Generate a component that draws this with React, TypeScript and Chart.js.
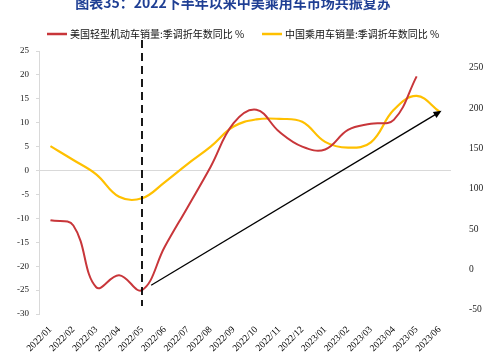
import React, { useEffect, useRef } from "react";
import { Chart, registerables } from "chart.js";
Chart.register(...registerables);

const categories = [
  "2022/01", "2022/02", "2022/03", "2022/04", "2022/05", "2022/06",
  "2022/07", "2022/08", "2022/09", "2022/10", "2022/11", "2022/12",
  "2023/01", "2023/02", "2023/03", "2023/04", "2023/05", "2023/06",
];
const usLabel = "美国轻型机动车销量:季调折年数同比 %";
const cnLabel = "中国乘用车销量:季调折年数同比 %";
const usSales = [-10.4, -11.5, -24.4, -21.9, -25, -15.9, -7.6, 0.8, 9.9, 12.7, 8.1, 5.0, 4.4, 8.5, 9.8, 10.6, 19.7, null];
const cnSales = [5.1, 2.2, -0.8, -5.5, -5.8, -2.4, 1.4, 5.0, 9.2, 10.7, 10.8, 10.2, 6.0, 4.8, 5.9, 12.7, 15.6, 12.3];
const leftTicks = [-30, -25, -20, -15, -10, -5, 0, 5, 10, 15, 20, 25];
const rightTicks = [-50, 0, 50, 100, 150, 200, 250];
const titleText = "图表35：2022下半年以来中美乘用车市场共振复苏";
const markerIndex = 4;
const arrowFrom = { index: 4.4, value: -24 };
const arrowTo = { index: 17, value: 12.5 };

const W = 511;
const H = 362;
const RED = "#C8363A";
const YELLOW = "#FFC000";
const serif = "'Liberation Serif', 'DejaVu Serif', serif";
const cjk = "'Noto Sans CJK SC', 'Noto Sans', sans-serif";

const overlay = {
  id: "overlay",
  afterDatasetsDraw(chart: any) {
    const ctx = chart.ctx;
    const xs = chart.scales.x;
    const ys = chart.scales.y;
    ctx.save();
    // dashed marker line
    const mx = xs.getPixelForValue(markerIndex);
    ctx.strokeStyle = "#000";
    ctx.lineWidth = 1.8;
    ctx.setLineDash([8, 5]);
    ctx.beginPath();
    ctx.moveTo(mx, 40);
    ctx.lineTo(mx, 306);
    ctx.stroke();
    ctx.setLineDash([]);
    // arrow
    const x1 = xs.getPixelForValue(arrowFrom.index);
    const y1 = ys.getPixelForValue(arrowFrom.value);
    const x2 = xs.getPixelForValue(arrowTo.index) + 2;
    const y2 = ys.getPixelForValue(arrowTo.value);
    const ang = Math.atan2(y2 - y1, x2 - x1);
    const hl = 8;
    ctx.lineWidth = 1.3;
    ctx.beginPath();
    ctx.moveTo(x1, y1);
    ctx.lineTo(x2 - hl * 0.8 * Math.cos(ang), y2 - hl * 0.8 * Math.sin(ang));
    ctx.stroke();
    ctx.fillStyle = "#000";
    ctx.beginPath();
    ctx.moveTo(x2, y2);
    ctx.lineTo(x2 - hl * Math.cos(ang) + 3.5 * Math.sin(ang), y2 - hl * Math.sin(ang) - 3.5 * Math.cos(ang));
    ctx.lineTo(x2 - hl * Math.cos(ang) - 3.5 * Math.sin(ang), y2 - hl * Math.sin(ang) + 3.5 * Math.cos(ang));
    ctx.closePath();
    ctx.fill();
    ctx.restore();
  },
  afterDraw(chart: any) {
    const ctx = chart.ctx;
    ctx.save();
    // title
    ctx.fillStyle = "#1F3F94";
    ctx.font = `bold 14px ${cjk}`;
    ctx.textAlign = "center";
    ctx.textBaseline = "middle";
    ctx.fillText(titleText, 233, 3);
    // legend
    ctx.font = `10px ${cjk}`;
    ctx.textAlign = "left";
    ctx.fillStyle = "#111";
    const items = [
      { c: RED, t: usLabel, x: 47 },
      { c: YELLOW, t: cnLabel, x: 262 },
    ];
    items.forEach((it) => {
      ctx.strokeStyle = it.c;
      ctx.lineWidth = 2.5;
      ctx.beginPath();
      ctx.moveTo(it.x, 34);
      ctx.lineTo(it.x + 20, 34);
      ctx.stroke();
      ctx.fillText(it.t, it.x + 23, 34);
    });
    ctx.restore();
  },
};

export default function App() {
  const ref = useRef<HTMLCanvasElement>(null);
  useEffect(() => {
    const chart = new Chart(ref.current as HTMLCanvasElement, {
      type: "line",
      data: {
        labels: categories,
        datasets: [
          {
            label: usLabel,
            data: usSales,
            borderColor: RED,
            backgroundColor: RED,
            borderWidth: 2,
            pointRadius: 0,
            tension: 0.4,
            yAxisID: "y",
          },
          {
            label: cnLabel,
            data: cnSales,
            borderColor: YELLOW,
            backgroundColor: YELLOW,
            borderWidth: 2.2,
            pointRadius: 0,
            tension: 0.4,
            yAxisID: "y",
          },
        ],
      },
      options: {
        responsive: false,
        animation: false,
        devicePixelRatio: 1,
        layout: { padding: { top: 51, left: 0, right: 0, bottom: 0 } },
        plugins: {
          legend: { display: false },
          title: { display: false },
          tooltip: { enabled: false },
        },
        scales: {
          x: {
            type: "category",
            offset: true,
            grid: { display: false },
            border: { display: false },
            ticks: {
              autoSkip: false,
              maxRotation: 45,
              minRotation: 45,
              padding: 2,
              color: "#000",
              font: { family: serif, size: 9.5 },
            },
            afterFit(s: any) {
              s.height = 48;
            },
          },
          y: {
            position: "left",
            min: -30,
            max: 25,
            afterBuildTicks(s: any) {
              s.ticks = leftTicks.map((v) => ({ value: v }));
            },
            grid: {
              color: (c: any) => (c.tick && c.tick.value === 0 ? "#d9d9d9" : "rgba(0,0,0,0)"),
              tickColor: "#d9d9d9",
              tickLength: 3,
              drawTicks: true,
            },
            border: { display: true, color: "#d9d9d9" },
            ticks: {
              padding: 7,
              color: "#222",
              font: { family: serif, size: 9 },
            },
            afterFit(s: any) {
              s.width = 39;
            },
          },
          y2: {
            position: "right",
            min: -55,
            max: 271,
            afterBuildTicks(s: any) {
              s.ticks = rightTicks.map((v) => ({ value: v }));
            },
            grid: { display: false, drawTicks: false },
            border: { display: false },
            ticks: {
              padding: 18,
              color: "#222",
              font: { family: serif, size: 9.5 },
            },
            afterFit(s: any) {
              s.width = 60;
            },
          },
        },
      },
      plugins: [overlay],
    } as any);
    return () => chart.destroy();
  }, []);
  return (
    <div
      style={{
        position: "fixed",
        left: 0,
        top: 0,
        width: 483,
        height: 362,
        overflow: "hidden",
        background: "#fff",
      }}
    >
      <canvas ref={ref} width={W} height={H} style={{ display: "block", width: W, height: H }} />
    </div>
  );
}
